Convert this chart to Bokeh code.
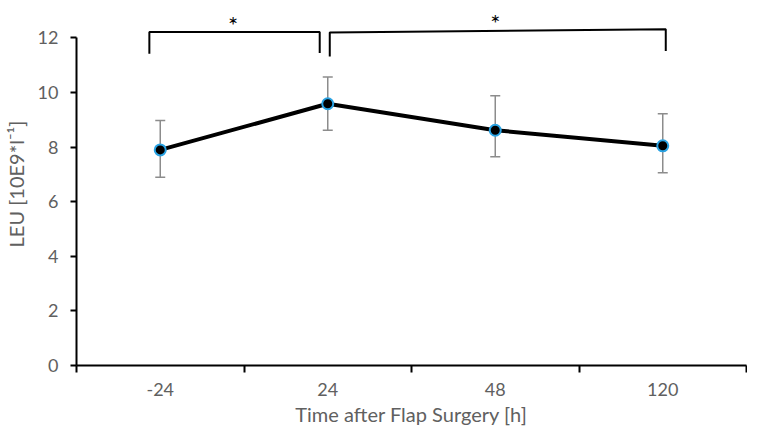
from bokeh.plotting import figure
from bokeh.models import Range1d, FixedTicker, ColumnDataSource, Whisker, TeeHead
from bokeh.core.properties import value
from bokeh.embed import file_html
from bokeh.resources import INLINE

# ---- data ----
categories = ["-24", "24", "48", "120"]
leu_mean = [7.9, 9.59, 8.62, 8.05]
leu_upper = [8.98, 10.57, 9.88, 9.22]
leu_lower = [6.9, 8.62, 7.65, 7.06]

# significance brackets (x in category units, y in data units)
br_x_left = [0.435, 1.512]
br_x_right = [1.452, 3.518]
br_top_left = [12.22, 12.2]
br_top_right = [12.22, 12.32]
br_bot_left = [11.42, 11.32]
br_bot_right = [11.45, 11.52]
star_x = [0.935, 2.5]
star_y = [12.5, 12.57]
star_text = ["*", "*"]

FONT = "Lato"
GRAY = "#606060"

xs = [i + 0.5 for i in range(len(categories))]

p = figure(width=747, height=428, output_backend="svg", toolbar_location=None,
           x_range=Range1d(0, len(categories)), y_range=Range1d(0, 13.3),
           min_border_left=73, min_border_right=1, min_border_top=2,
           min_border_bottom=62)
p.outline_line_color = None
p.grid.visible = False
p.background_fill_color = "white"
p.border_fill_color = "white"

# x axis: labels at centers, ticks at boundaries (minor ticks)
p.xaxis.ticker = FixedTicker(ticks=xs, minor_ticks=list(range(len(categories) + 1)))
p.xaxis.major_label_overrides = {x: c for x, c in zip(xs, categories)}
p.xaxis.major_tick_line_color = None
p.xaxis.major_tick_in = 0
p.xaxis.major_tick_out = 6
p.xaxis.minor_tick_in = 0
p.xaxis.minor_tick_out = 7
p.xaxis.minor_tick_line_color = "black"
p.xaxis.minor_tick_line_width = 2
p.xaxis.axis_line_color = "black"
p.xaxis.axis_line_width = 2
p.xaxis.major_label_standoff = 10
p.xaxis.axis_label = "Time after Flap Surgery [h]"
p.xaxis.axis_label_standoff = 3

# y axis
p.yaxis.ticker = FixedTicker(ticks=[0, 2, 4, 6, 8, 10, 12])
p.yaxis.bounds = (0, 12)
p.yaxis.minor_tick_line_color = None
p.yaxis.major_tick_in = 0
p.yaxis.major_tick_out = 6
p.yaxis.major_tick_line_width = 2
p.yaxis.axis_line_width = 2
p.yaxis.major_label_standoff = 12
p.yaxis.axis_label = "LEU [10E9*l\u207b\u00b9]"
p.yaxis.axis_label_standoff = 7

for ax in (p.xaxis, p.yaxis):
    ax.major_label_text_font = FONT
    ax.major_label_text_font_size = "18px"
    ax.major_label_text_color = GRAY
    ax.axis_label_text_font = FONT
    ax.axis_label_text_font_size = "20px"
    ax.axis_label_text_font_style = "normal"
    ax.axis_label_text_color = GRAY

src = ColumnDataSource(dict(x=xs, y=leu_mean, upper=leu_upper, lower=leu_lower))

# error bars
w = Whisker(base="x", upper="upper", lower="lower", source=src,
            line_color="#8c8c8c", line_width=1.5,
            upper_head=TeeHead(size=10, line_color="#8c8c8c", line_width=1.5),
            lower_head=TeeHead(size=10, line_color="#8c8c8c", line_width=1.5))
p.add_layout(w)

p.line("x", "y", source=src, line_color="black", line_width=4)
p.scatter("x", "y", source=src, size=11, fill_color="black",
          line_color="#2aa3e3", line_width=2)

# brackets
bx, by = [], []
for i in range(len(br_x_left)):
    bx.append([br_x_left[i], br_x_left[i], br_x_right[i], br_x_right[i]])
    by.append([br_bot_left[i], br_top_left[i], br_top_right[i], br_bot_right[i]])
p.multi_line(bx, by, line_color="black", line_width=2)

p.text(x=star_x, y=star_y, text=star_text, text_font=value(FONT),
       text_font_size="24px", text_align="center", text_baseline="middle",
       text_color="black")

open("out.html", "w").write(file_html(p, INLINE))
